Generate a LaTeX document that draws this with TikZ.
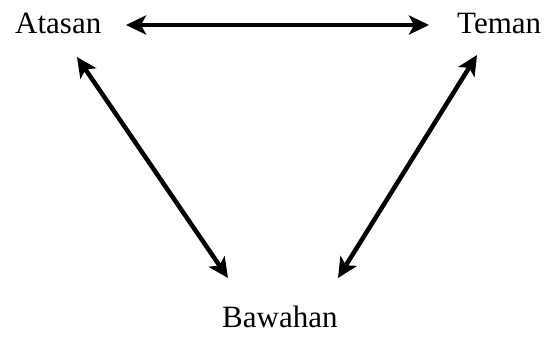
\documentclass[tikz,border=0pt]{standalone}
\usepackage{fontspec}
\setmainfont{Liberation Serif}
\usetikzlibrary{arrows.meta}
\begin{document}
\begin{tikzpicture}[x=1pt,y=-1pt,
  lbl/.style={inner sep=0pt,anchor=base west,font=\fontsize{31}{36}\selectfont},
  arr/.style={line width=4.5pt,{Stealth[length=20pt,width=19pt,inset=5pt]}-{Stealth[length=20pt,width=19pt,inset=5pt]}}]
\useasboundingbox (0,0) rectangle (550,338);
\node[lbl] (atasan) at (15,33) {Atasan};
\node[lbl] (teman) at (457,33) {Teman};
\node[lbl] (bawahan) at (222,327) {Bawahan};
\coordinate (aR) at (126,25);
\coordinate (tL) at (429,25);
\coordinate (aB) at (77,57);
\coordinate (tB) at (477,55);
\coordinate (bL) at (228,278);
\coordinate (bR) at (338,278);
\draw[arr] (aR) -- (tL);
\draw[arr] (aB) -- (bL);
\draw[arr] (tB) -- (bR);
\end{tikzpicture}
\end{document}
